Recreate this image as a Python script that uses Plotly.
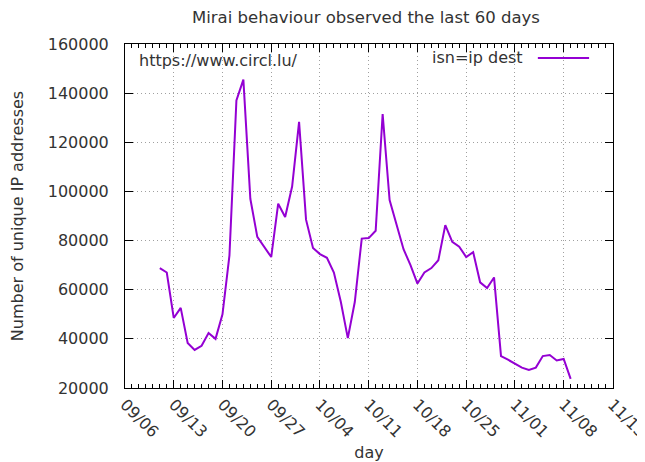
import plotly.graph_objects as go
import pandas as pd

start_day = "2016-09-11"
values = [68800, 67000, 48500, 52600, 38300, 35500, 37200, 42400, 40000, 50000,
          74000, 137000, 145500, 97000, 81500, 77500, 73300, 95000, 89600, 102000,
          128300, 88500, 77000, 74500, 73000, 67000, 55000, 40300, 55000, 80800,
          81000, 84000, 131500, 96500, 86000, 76500, 70000, 62500, 67000, 68800,
          72000, 86300, 79500, 77500, 73300, 75300, 63000, 60700, 65000, 33000,
          31500, 29800, 28300, 27300, 28300, 33000, 33400, 31200, 31800, 23700]
days = pd.date_range(start_day, periods=len(values), freq="D")

tick_dates = pd.date_range("2016-09-06", "2016-11-15", freq="7D")
tick_labels = [d.strftime("%m/%d") for d in tick_dates]
y_ticks = list(range(20000, 160001, 20000))
y_labels = [str(v) for v in y_ticks]

title_text = "Mirai behaviour observed the last 60 days"
series_name = "isn=ip dest"
url_text = "https://www.circl.lu/"

FONT = "DejaVu Sans"
TXT = "#333333"
LINE = "#9400d3"
FS = 16

fig = go.Figure()
fig.add_trace(go.Scatter(x=days, y=values, mode="lines", name=series_name,
                         line=dict(color=LINE, width=2), showlegend=False))

# page body adds an 8px offset; margins compensate for it
fig.update_layout(
    width=645, height=462,
    margin=dict(l=117, r=40, t=36, b=82, autoexpand=False),
    paper_bgcolor="white", plot_bgcolor="white",
    font=dict(family=FONT, size=FS, color=TXT),
    title=dict(text=title_text, x=0.555, xanchor="center", y=0.981, yanchor="middle",
               font=dict(family=FONT, size=16.5, color=TXT)),
)
fig.update_xaxes(
    range=[tick_dates[0], tick_dates[-1] + pd.Timedelta(hours=2)],
    tickvals=tick_dates, ticktext=tick_labels, tickangle=45,
    ticks="inside", ticklen=8, tickcolor="black",
    minor=dict(ticks="inside", ticklen=4, dtick=86400000, tickcolor="black", showgrid=False),
    showline=True, linecolor="black", linewidth=1, mirror="ticks",
    showgrid=True, gridcolor="#a0a0a0", griddash="1px,3px", gridwidth=1,
    tickfont=dict(family=FONT, size=FS, color=TXT),
    title=dict(text="day", font=dict(family=FONT, size=FS, color=TXT), standoff=6),
    zeroline=False, automargin=False,
)
fig.update_yaxes(
    range=[20000, 160000], tickvals=y_ticks, ticktext=y_labels,
    ticks="inside", ticklen=8, tickcolor="black",
    showline=True, linecolor="black", linewidth=1, mirror="ticks",
    showgrid=True, gridcolor="#a0a0a0", griddash="1px,3px", gridwidth=1,
    tickfont=dict(family=FONT, size=FS, color=TXT),
    ticklabelstandoff=12,
    title=dict(text="Number of unique IP addresses", font=dict(family=FONT, size=FS, color=TXT), standoff=23),
    zeroline=False, automargin=False,
)
fig.add_annotation(text=url_text, xref="paper", yref="paper", x=0.0246, y=0.953,
                   xanchor="left", yanchor="middle", showarrow=False,
                   font=dict(family=FONT, size=FS, color=TXT))
fig.add_annotation(text=series_name, xref="paper", yref="paper", x=0.8197, y=0.962,
                   xanchor="right", yanchor="middle", showarrow=False,
                   font=dict(family=FONT, size=FS, color=TXT))
fig.add_shape(type="line", xref="paper", yref="paper", x0=0.846, x1=0.951, y0=0.959, y1=0.959,
              line=dict(color=LINE, width=2))

fig.write_html("out.html")
